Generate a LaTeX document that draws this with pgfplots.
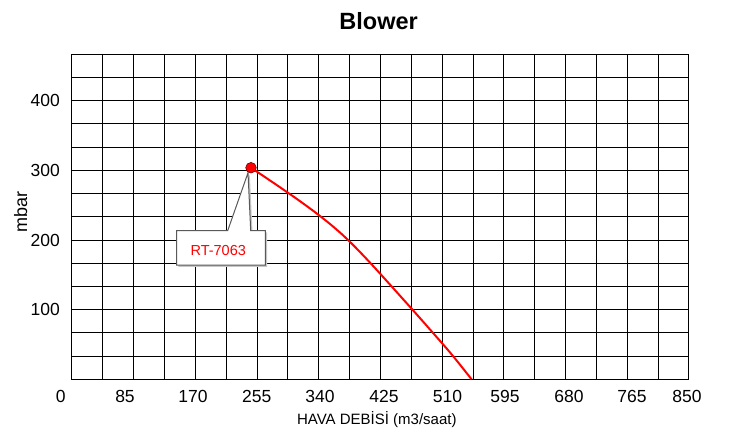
\documentclass[border=0pt]{standalone}
\usepackage{pgfplots}
\pgfplotsset{compat=1.18}
\usepackage{fontspec}
\setmainfont{Liberation Sans}
\begin{document}
\begin{tikzpicture}
\useasboundingbox (-72bp,-59.7bp) rectangle (683bp,379.3bp);
\begin{axis}[
  scale only axis, width=617bp, height=325bp,
  at={(0,0)}, anchor=south west,
  xmin=0, xmax=850, ymin=0, ymax=466.667,
  axis line style={line width=1bp, black},
  /pgf/number format/assume math mode=true,
  xtick={0,73,166.7,254.4,341.6,429.8,517.3,596.5,684.7,771.5,847.3},
  xticklabels={\makebox[0pt]{\hspace{-22.4bp}0},85,170,255,340,425,510,595,680,765,850},
  ytick={100,200,300,400},
  minor xtick={42.5,85,127.5,170,212.5,255,297.5,340,382.5,425,467.5,510,552.5,595,637.5,680,722.5,765,807.5},
  minor ytick={33.333,66.667,100,133.333,166.667,200,233.333,266.667,300,333.333,366.667,400,433.333},
  xmajorgrids=false, ymajorgrids=false,
  xminorgrids=true, yminorgrids=true,
  minor grid style={black, line width=1bp},
  major tick length=0pt, minor tick length=0pt,
  tick style={draw=none},
  xticklabel style={font=\fontsize{17.5bp}{20bp}\selectfont, inner sep=0pt, anchor=north, yshift=-10.5bp},
  yticklabel style={font=\fontsize{17.5bp}{20bp}\selectfont, inner sep=0pt, anchor=east, xshift=-12bp},
  title={Blower},
  title style={font=\bfseries\fontsize{23.5bp}{26bp}\selectfont, at={(axis description cs:0.497,1)}, anchor=center, yshift=27.3bp, inner sep=0pt},
  xlabel={HAVA DEBİSİ (m3/saat)},
  xlabel style={font=\fontsize{15bp}{18bp}\selectfont, at={(axis description cs:0.494,0)}, anchor=center, yshift=-40.7bp, inner sep=0pt},
  ylabel={mbar},
  ylabel style={font=\fontsize{18bp}{20bp}\selectfont, at={(axis description cs:-0.0831,0.514)}, anchor=center, rotate=0, inner sep=0pt},
  clip=false,
]
\addplot[red, line width=2bp, smooth] coordinates {
  (246.6,303.8) (280,280.4) (310,258.8) (335,239.8) (355,223.4) (372,208.1)
  (388,192.1) (405,173.7) (425,151.1) (468,101.2) (496,68.2) (523,35.8) (550.5,0)
};
% callout
\fill[gray!45, shift={(1.8bp,-1.8bp)}] (axis cs:144.2,164.1) -- (axis cs:144.2,213.4) -- (axis cs:214.5,213.4) -- (axis cs:242.5,296.6) -- (axis cs:246.2,213.4) -- (axis cs:266.3,213.4) -- (axis cs:266.3,164.1) -- cycle;
\filldraw[fill=white, draw=black!65, line width=1bp] (axis cs:144.2,164.1) -- (axis cs:144.2,213.4) -- (axis cs:214.5,213.4) -- (axis cs:242.5,296.6) -- (axis cs:246.2,213.4) -- (axis cs:266.3,213.4) -- (axis cs:266.3,164.1) -- cycle;
\node[text=red, font=\fontsize{14.5bp}{17bp}\selectfont, inner sep=0pt] at (axis cs:201.5,184.5) {RT-7063};
\addplot[only marks, mark=*, mark size=5.3bp, mark options={fill=red, draw=red!45!black, line width=0.6bp}] coordinates {(246.6,303.8)};
\end{axis}
\end{tikzpicture}
\end{document}
